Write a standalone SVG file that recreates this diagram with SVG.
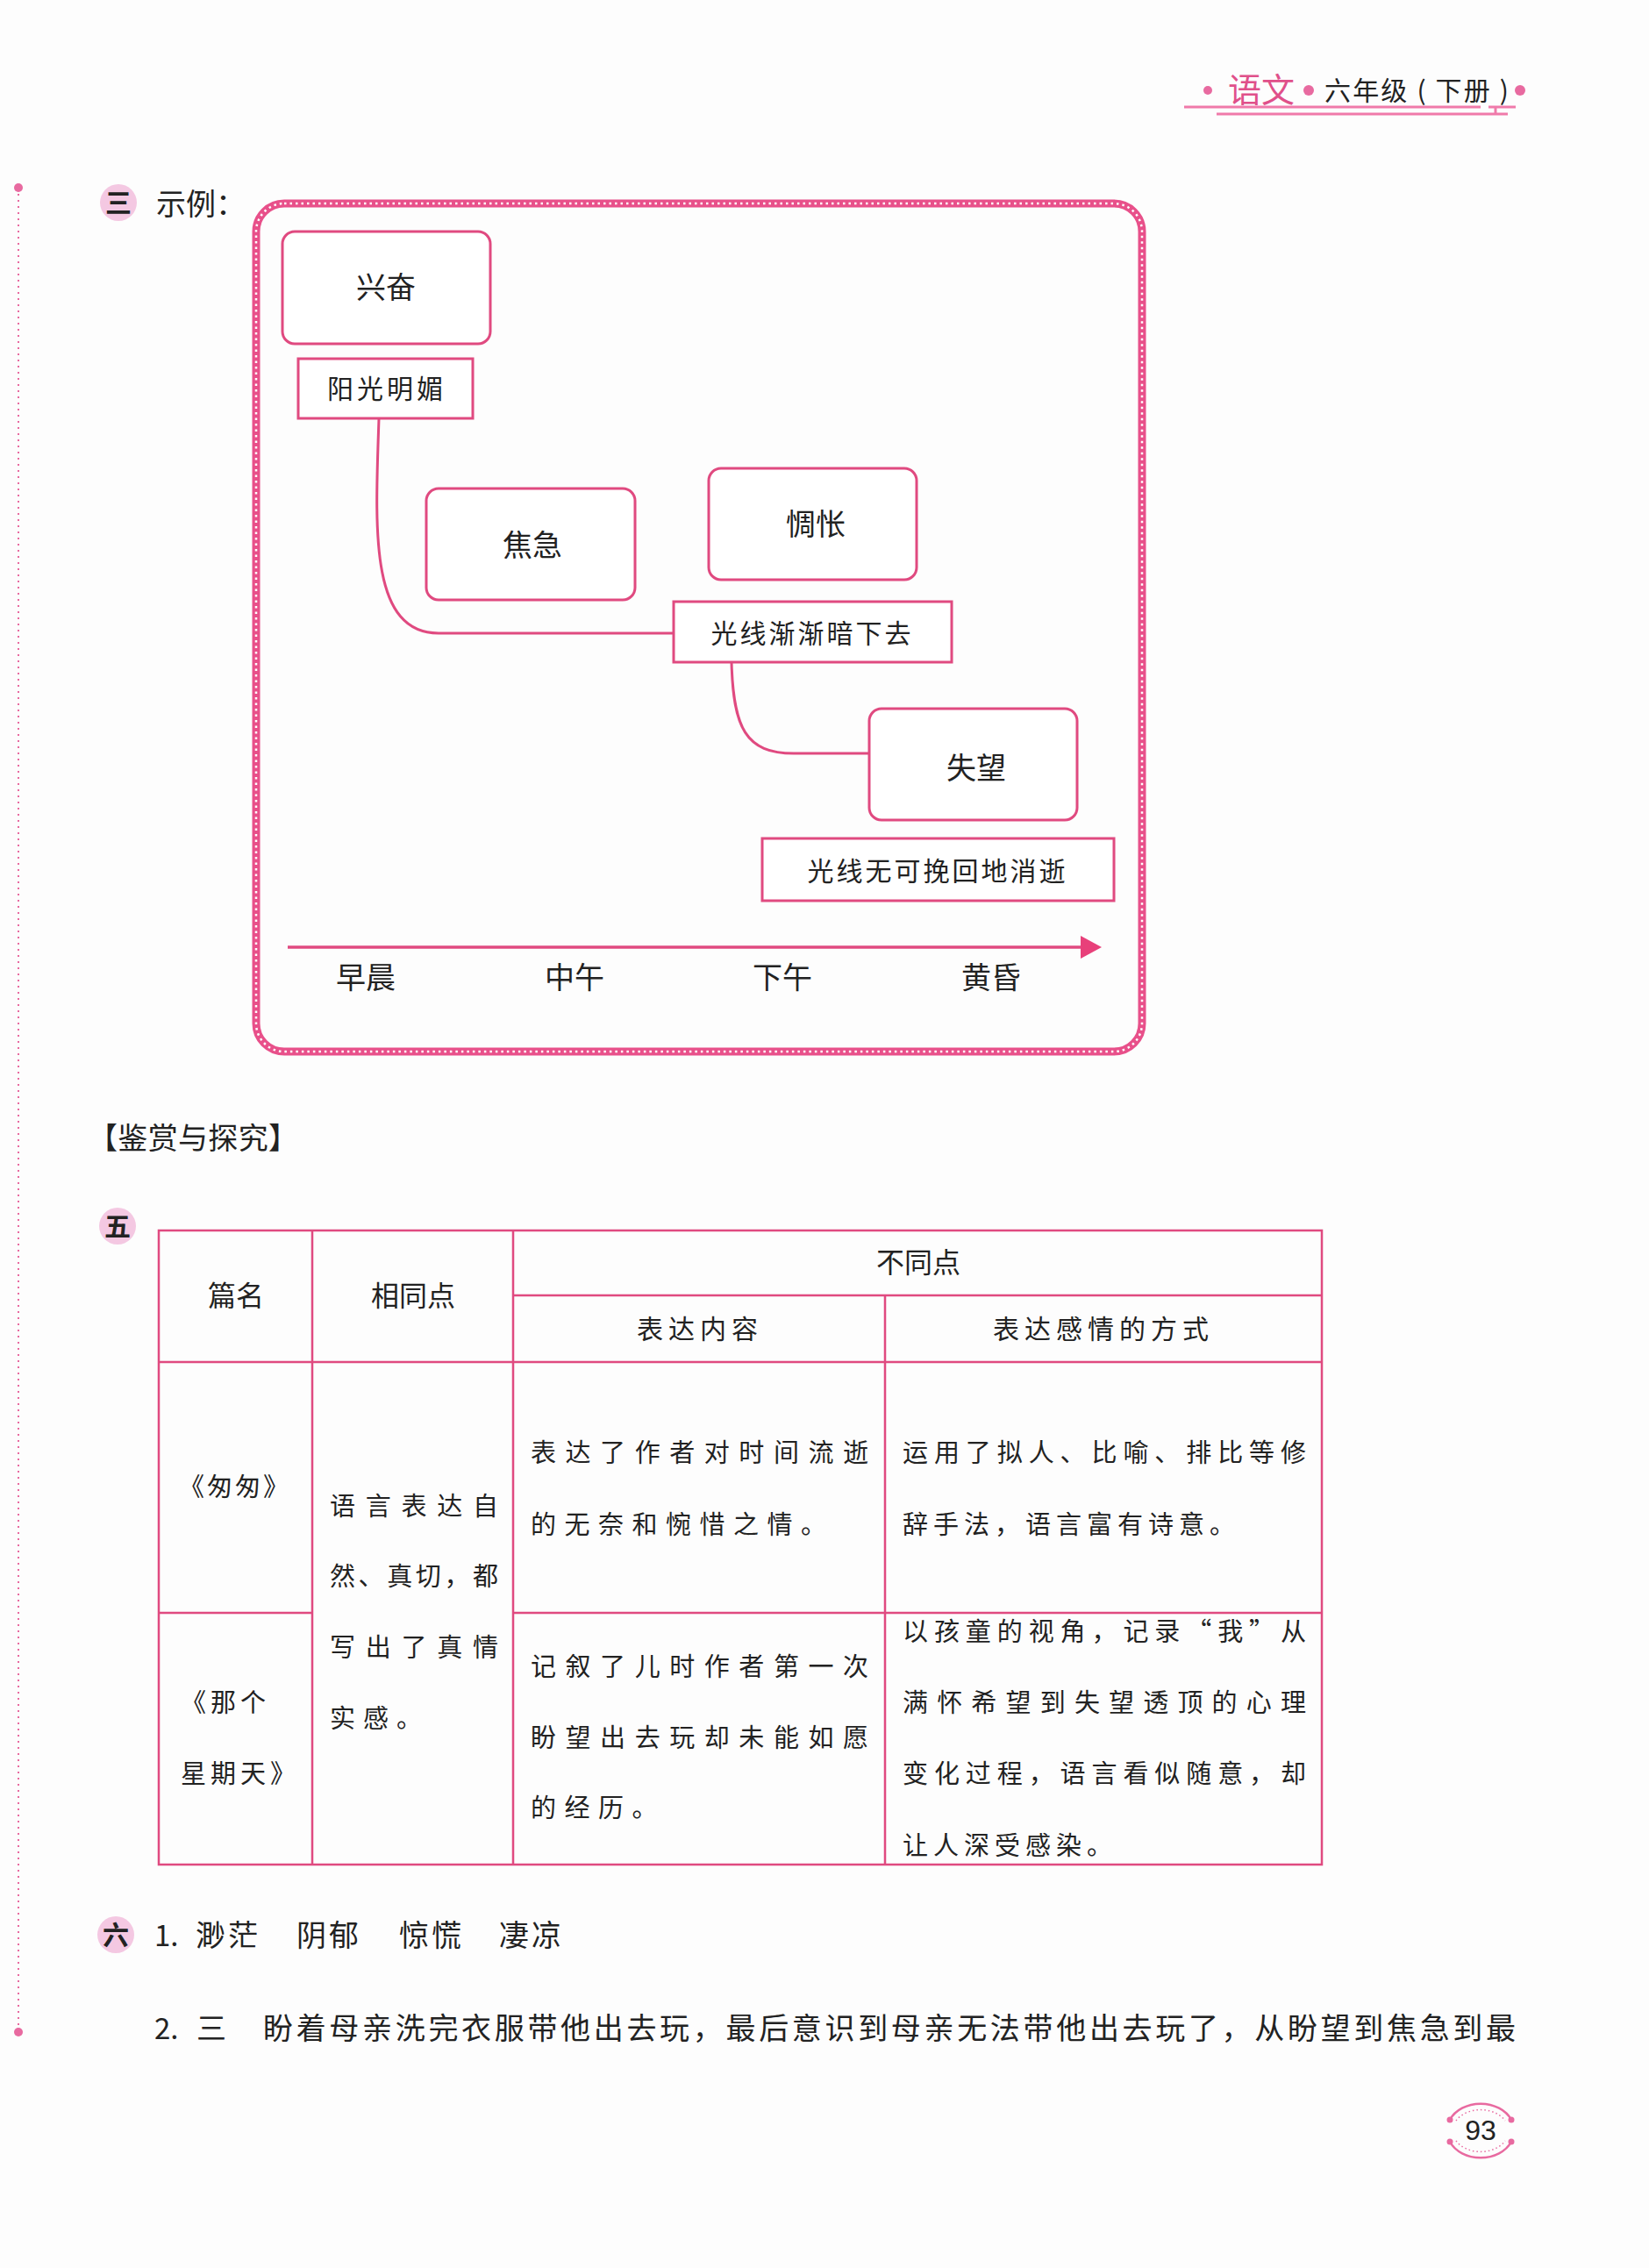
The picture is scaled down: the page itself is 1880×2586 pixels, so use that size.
<svg xmlns="http://www.w3.org/2000/svg" width="1880" height="2586" viewBox="0 0 1880 2586">
<style>
.cjk{font-family:"Noto Sans CJK SC","Noto Sans",sans-serif;fill:#222;}
.node{fill:#fff;stroke:#e04a80;stroke-width:3;}
.conn{fill:none;stroke:#e04a80;stroke-width:3;}
.tl{stroke:#e04a80;stroke-width:2.5;}
.badge{fill:#f4c8e2;}
.t29{font-size:29px;}
.t30{font-size:30px;}
.t32{font-size:32px;}
.t34{font-size:34px;}
</style>
<rect x="0" y="0" width="1880" height="2586" fill="#fdfdfd"/>

<!-- header -->
<g id="header">
<circle cx="1377" cy="103" r="5" fill="#e86aa0"/>
<text x="1400" y="116" class="cjk" style="font-size:38px;fill:#e0508a">语文</text>
<circle cx="1492" cy="103" r="6" fill="#e86aa0"/>
<text x="1510" y="114" class="cjk" style="font-size:30px" textLength="210" lengthAdjust="spacing">六年级 ( 下册 )</text>
<circle cx="1733" cy="103" r="6" fill="#e86aa0"/>
<line x1="1350" y1="122" x2="1688" y2="122" stroke="#f07aaa" stroke-width="3"/>
<line x1="1697" y1="122" x2="1728" y2="122" stroke="#f07aaa" stroke-width="3"/>
<line x1="1387" y1="130" x2="1719" y2="130" stroke="#f07aaa" stroke-width="3"/>
<line x1="1705" y1="122" x2="1705" y2="130" stroke="#f07aaa" stroke-width="3"/>
</g>

<!-- left margin -->
<g id="margin">
<line x1="21" y1="214" x2="21" y2="2317" stroke="#e86aa0" stroke-width="2" stroke-dasharray="2 5"/>
<circle cx="21" cy="214" r="5" fill="#e86aa0"/>
<circle cx="21" cy="2317" r="5" fill="#e86aa0"/>
</g>

<!-- section 三 -->
<g id="sec3">
<circle cx="135" cy="231" r="21" class="badge"/>
<text x="135" y="242" text-anchor="middle" class="cjk" style="font-size:30px;font-weight:bold">三</text>
<text x="178" y="245" class="cjk" style="font-size:34px">示例：</text>
</g>

<g id="frame">
<rect x="292" y="232" width="1010" height="967" rx="32" fill="none" stroke="#e8508a" stroke-width="9"/>
<rect x="292" y="232" width="1010" height="967" rx="32" fill="none" stroke="#fff" stroke-width="2.5" stroke-dasharray="2.5 4"/>
</g>

<g id="connectors">
<path class="conn" d="M432 477 C428 600 420 722 500 722 L768 722"/>
<path class="conn" d="M834 755 C836 830 850 859 905 859 L991 859"/>
<line class="conn" x1="328" y1="1080" x2="1236" y2="1080" style="stroke-width:3.5"/>
<polygon points="1232,1067 1256,1080 1232,1093" fill="#e8407a"/>
</g>

<g id="n-xingfen">
<rect class="node" x="322" y="264" width="237" height="128" rx="14"/>
<text x="440" y="340" text-anchor="middle" class="cjk t34">兴奋</text>
</g>
<g id="n-yangguang">
<rect class="node" x="340" y="409" width="199" height="68"/>
<text x="441" y="454" text-anchor="middle" class="cjk t30" letter-spacing="4">阳光明媚</text>
</g>
<g id="n-jiaoji">
<rect class="node" x="486" y="557" width="238" height="127" rx="14"/>
<text x="607" y="634" text-anchor="middle" class="cjk t34">焦急</text>
</g>
<g id="n-chouchang">
<rect class="node" x="808" y="534" width="237" height="127" rx="14"/>
<text x="930" y="610" text-anchor="middle" class="cjk t34">惆怅</text>
</g>
<g id="n-guangxian1">
<rect class="node" x="768" y="686" width="317" height="69"/>
<text x="926" y="733" text-anchor="middle" class="cjk t30" letter-spacing="3">光线渐渐暗下去</text>
</g>
<g id="n-shiwang">
<rect class="node" x="991" y="808" width="237" height="127" rx="14"/>
<text x="1113" y="888" text-anchor="middle" class="cjk t34">失望</text>
</g>
<g id="n-guangxian2">
<rect class="node" x="869" y="956" width="401" height="71"/>
<text x="1069" y="1004" text-anchor="middle" class="cjk t30" letter-spacing="3">光线无可挽回地消逝</text>
</g>
<g id="timeline-labels">
<text x="417" y="1127" text-anchor="middle" class="cjk t34">早晨</text>
<text x="655" y="1127" text-anchor="middle" class="cjk t34">中午</text>
<text x="892" y="1127" text-anchor="middle" class="cjk t34">下午</text>
<text x="1130" y="1127" text-anchor="middle" class="cjk t34">黄昏</text>
</g>

<!-- 鉴赏与探究 -->
<text x="100" y="1310" class="cjk" style="font-size:34px" textLength="240" lengthAdjust="spacing">【鉴赏与探究】</text>

<!-- section 五 table -->
<g id="sec5">
<circle cx="134" cy="1398" r="21" class="badge"/>
<text x="134" y="1409" text-anchor="middle" class="cjk" style="font-size:30px;font-weight:bold">五</text>
</g>
<g id="table">
<rect x="181" y="1403" width="1326" height="723" fill="none" class="tl"/>
<line class="tl" x1="356" y1="1403" x2="356" y2="2126"/>
<line class="tl" x1="585" y1="1403" x2="585" y2="2126"/>
<line class="tl" x1="1009" y1="1477" x2="1009" y2="2126"/>
<line class="tl" x1="585" y1="1477" x2="1507" y2="1477"/>
<line class="tl" x1="181" y1="1553" x2="1507" y2="1553"/>
<line class="tl" x1="181" y1="1839" x2="356" y2="1839"/>
<line class="tl" x1="585" y1="1839" x2="1507" y2="1839"/>

<text x="269" y="1489" text-anchor="middle" class="cjk t32">篇名</text>
<text x="471" y="1489" text-anchor="middle" class="cjk t32">相同点</text>
<text x="1047" y="1451" text-anchor="middle" class="cjk t32">不同点</text>
<text x="798" y="1526" text-anchor="middle" class="cjk t30" letter-spacing="6">表达内容</text>
<text x="1258" y="1526" text-anchor="middle" class="cjk t30" letter-spacing="6">表达感情的方式</text>

<text x="268" y="1706" text-anchor="middle" class="cjk t29" letter-spacing="3">《匆匆》</text>
<text x="206" y="1952" class="cjk t29" letter-spacing="5">《那个</text>
<text x="206" y="2033" class="cjk t29" letter-spacing="5">星期天》</text>

<text x="376" y="1728" class="cjk t29" textLength="192" lengthAdjust="spacing">语言表达自</text>
<text x="376" y="1808" class="cjk t29" textLength="192" lengthAdjust="spacing">然、真切，都</text>
<text x="376" y="1889" class="cjk t29" textLength="192" lengthAdjust="spacing">写出了真情</text>
<text x="376" y="1970" class="cjk t29" letter-spacing="9">实感。</text>

<text x="605" y="1667" class="cjk t29" textLength="385" lengthAdjust="spacing">表达了作者对时间流逝</text>
<text x="605" y="1749" class="cjk t29" letter-spacing="9.5">的无奈和惋惜之情。</text>
<text x="1029" y="1667" class="cjk t29" textLength="460" lengthAdjust="spacing">运用了拟人、比喻、排比等修</text>
<text x="1029" y="1749" class="cjk t29" letter-spacing="6">辞手法，语言富有诗意。</text>

<text x="605" y="1911" class="cjk t29" textLength="385" lengthAdjust="spacing">记叙了儿时作者第一次</text>
<text x="605" y="1992" class="cjk t29" textLength="385" lengthAdjust="spacing">盼望出去玩却未能如愿</text>
<text x="605" y="2072" class="cjk t29" letter-spacing="9.5">的经历。</text>
<text x="1029" y="1871" class="cjk t29" textLength="460" lengthAdjust="spacing">以孩童的视角，记录“我”从</text>
<text x="1029" y="1952" class="cjk t29" textLength="460" lengthAdjust="spacing">满怀希望到失望透顶的心理</text>
<text x="1029" y="2033" class="cjk t29" textLength="460" lengthAdjust="spacing">变化过程，语言看似随意，却</text>
<text x="1029" y="2115" class="cjk t29" letter-spacing="6">让人深受感染。</text>
</g>

<!-- section 六 -->
<g id="sec6">
<circle cx="132" cy="2206" r="21" class="badge"/>
<text x="132" y="2217" text-anchor="middle" class="cjk" style="font-size:30px;font-weight:bold">六</text>
<text x="176" y="2219" class="cjk" style="font-size:33px">1.</text>
<text x="223" y="2219" class="cjk" style="font-size:34px" letter-spacing="3">渺茫</text>
<text x="338" y="2219" class="cjk" style="font-size:34px" letter-spacing="3">阴郁</text>
<text x="455" y="2219" class="cjk" style="font-size:34px" letter-spacing="3">惊慌</text>
<text x="569" y="2219" class="cjk" style="font-size:34px" letter-spacing="3">凄凉</text>
<text x="176" y="2325" class="cjk" style="font-size:33px">2.</text>
<text x="224" y="2325" class="cjk" style="font-size:34px">三</text>
<text x="300" y="2325" class="cjk" style="font-size:34px" textLength="1428" lengthAdjust="spacing">盼着母亲洗完衣服带他出去玩，最后意识到母亲无法带他出去玩了，从盼望到焦急到最</text>
</g>

<!-- page number -->
<g id="pagenum">
<path d="M1653 2417 A38 30 0 0 1 1723 2417" fill="none" stroke="#e86aa0" stroke-width="2.5"/>
<path d="M1653 2442 A38 30 0 0 0 1723 2442" fill="none" stroke="#e86aa0" stroke-width="2.5"/>
<path d="M1660 2418 A32 24 0 0 1 1716 2418" fill="none" stroke="#e86aa0" stroke-width="1.5" stroke-dasharray="1.5 3"/>
<path d="M1660 2441 A32 24 0 0 0 1716 2441" fill="none" stroke="#e86aa0" stroke-width="1.5" stroke-dasharray="1.5 3"/>
<circle cx="1653" cy="2417" r="3.5" fill="#e86aa0"/>
<circle cx="1723" cy="2417" r="3.5" fill="#e86aa0"/>
<circle cx="1653" cy="2442" r="3.5" fill="#e86aa0"/>
<circle cx="1723" cy="2442" r="3.5" fill="#e86aa0"/>
<text x="1688" y="2440" text-anchor="middle" style="font-family:'Liberation Sans',Arial,sans-serif;font-size:32px;fill:#222">93</text>
</g>
</svg>
